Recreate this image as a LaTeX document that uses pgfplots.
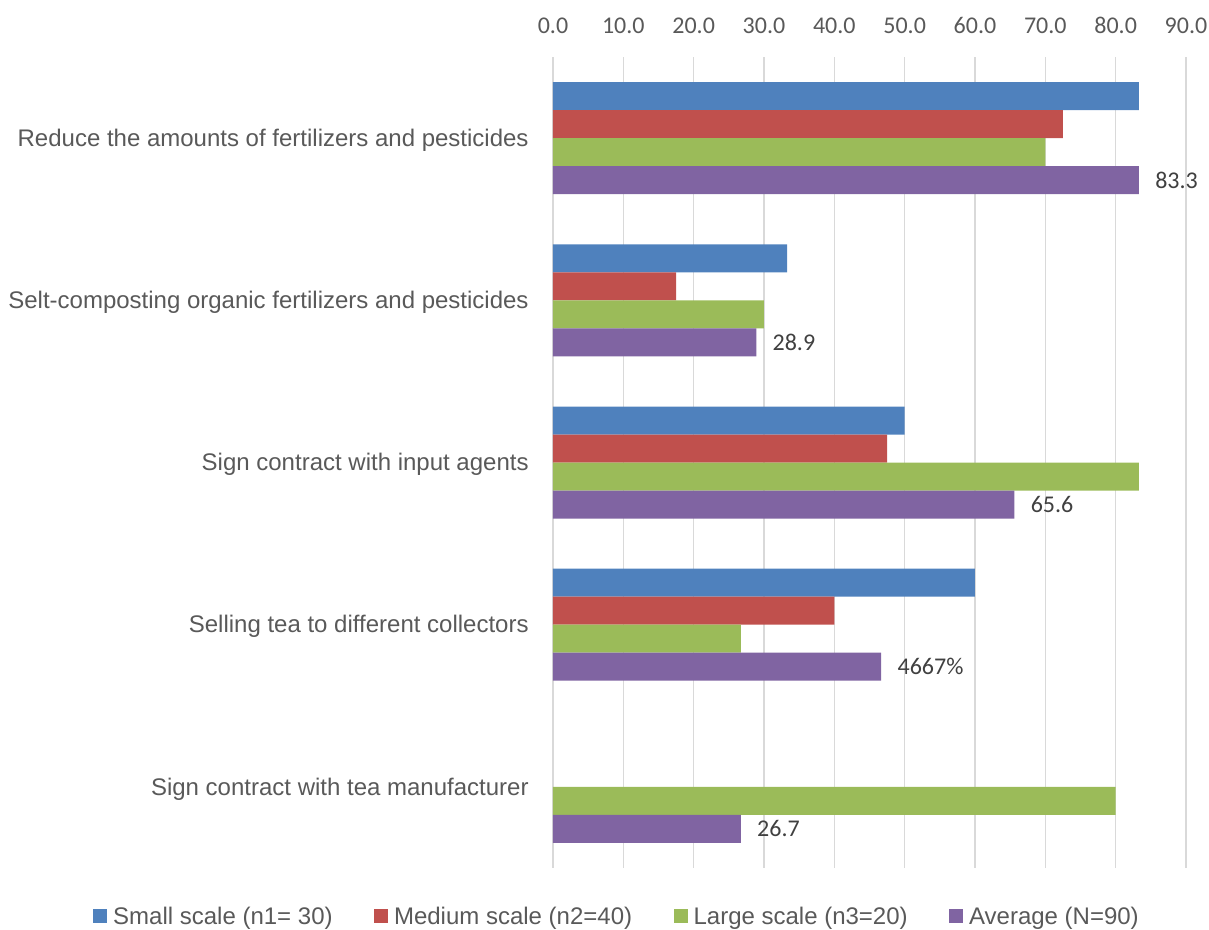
\documentclass[border=0pt]{standalone}
\usepackage{fontspec}
\setmainfont{Liberation Sans}
\newfontfamily\calibri{Carlito}
\usepackage{pgfplots}
\pgfplotsset{compat=1.18}

\definecolor{smallc}{HTML}{4F81BD}
\definecolor{medc}{HTML}{C0504D}
\definecolor{largec}{HTML}{9BBB59}
\definecolor{avgc}{HTML}{8064A2}
\definecolor{gridc}{HTML}{D9D9D9}
\definecolor{labc}{HTML}{595959}
\definecolor{valc}{HTML}{404040}

\begin{document}
\begin{tikzpicture}
\useasboundingbox (-276.5pt,-31pt) rectangle (328pt,434pt);
\begin{axis}[
  scale only axis,
  width=316.5pt, height=405.5pt,
  xbar=0pt, bar width=14pt,
  xmin=0, xmax=90,
  ymin=-0.5, ymax=4.5,
  y dir=reverse,
  clip=false,
  font=\fontsize{12}{14.4}\selectfont,
  xtick={0,10,...,90},
  xticklabel pos=right,
  xticklabel style={
    font=\calibri\fontsize{12}{14.4}\selectfont, text=labc,
    anchor=base, inner sep=0pt, yshift=12pt,
    /pgf/number format/.cd, fixed, fixed zerofill, precision=1,
    assume math mode=true},
  ytick={0,1,2,3,4},
  yticklabels={
    Reduce the amounts of fertilizers and pesticides,
    Selt-composting organic fertilizers and pesticides,
    Sign contract with input agents,
    Selling tea to different collectors,
    Sign contract with tea manufacturer},
  yticklabel style={text=labc, anchor=east, inner sep=0pt, xshift=-12pt, yshift=-1pt},
  major tick length=0pt,
  tick style={draw=none},
  axis line style={draw=none},
  xmajorgrids,
  major grid style={draw=gridc, line width=0.75pt},
  legend columns=4,
  legend image code/.code={\fill[#1] (0pt,-3pt) rectangle (7pt,4pt);},
  legend style={
    at={(0.1027,-0.0604)}, anchor=center, draw=none, fill=none,
    font=\fontsize{12}{14.4}\selectfont, text=labc,
    /tikz/every odd column/.append style={column sep=1pt},
    /tikz/every even column/.append style={column sep=18.7pt}},
]
% four bars per category, the first series on top
\addplot[fill=smallc, draw=none, bar shift=21pt] coordinates {
  (83.3,0) (33.3,1) (50,2) (60,3)};
\addlegendentry{Small scale (n1= 30)}
\addplot[fill=medc, draw=none, bar shift=7pt] coordinates {
  (72.5,0) (17.5,1) (47.5,2) (40,3)};
\addlegendentry{Medium scale (n2=40)}
\addplot[fill=largec, draw=none, bar shift=-7pt] coordinates {
  (70,0) (30,1) (83.3,2) (26.7,3) (80,4)};
\addlegendentry{Large scale (n3=20)}
\addplot[fill=avgc, draw=none, bar shift=-21pt,
  point meta=explicit symbolic,
  nodes near coords,
  nodes near coords style={anchor=west, inner sep=0pt, xshift=8pt,
    font=\calibri\fontsize{12}{14.4}\selectfont, text=valc}]
  coordinates {
  (83.3,0) [83.3] (28.9,1) [28.9] (65.6,2) [65.6] (46.67,3) [4667\%] (26.7,4) [26.7]};
\addlegendentry{Average (N=90)}
\end{axis}
\end{tikzpicture}
\end{document}
